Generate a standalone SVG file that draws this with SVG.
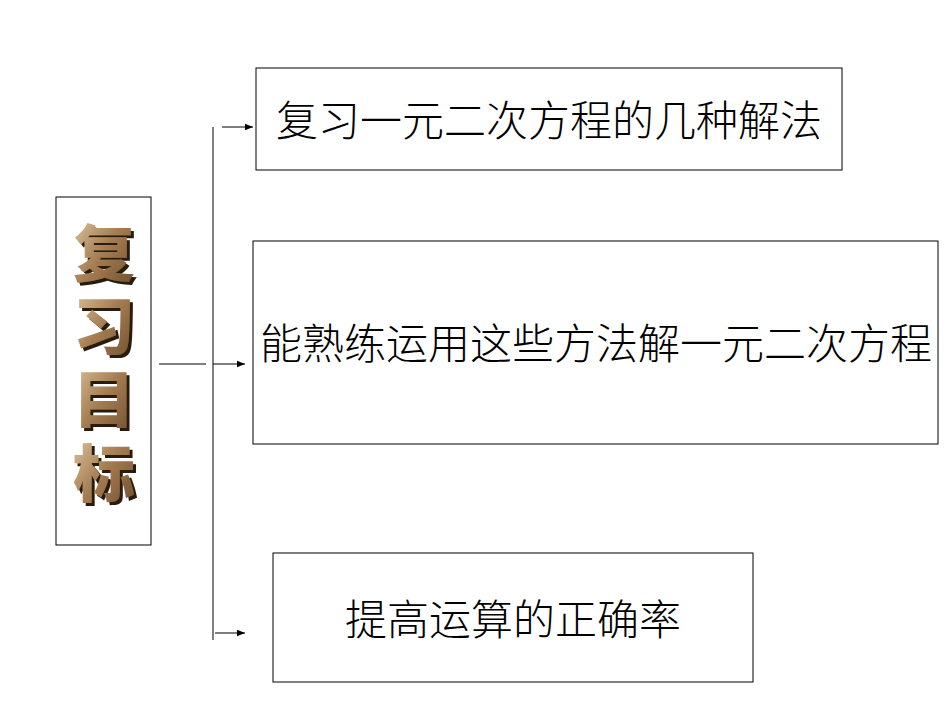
<svg xmlns="http://www.w3.org/2000/svg" width="950" height="713" viewBox="0 0 950 713">
<defs>
<style>
.box{fill:#fff;stroke:#000;stroke-width:1}
.t{font-family:"Noto Sans CJK SC",sans-serif;font-weight:300;fill:#000;text-anchor:middle}
.title{font-family:"Noto Sans CJK SC",sans-serif;font-weight:900;font-size:62px;text-anchor:middle;fill:url(#g);filter:url(#sh)}
.ln{stroke:#000;stroke-width:1;fill:none}
</style>
<linearGradient id="g" x1="0" y1="0" x2="1" y2="1">
<stop offset="0" stop-color="#e6cfa8"/><stop offset="0.5" stop-color="#a57d52"/><stop offset="1" stop-color="#6b4a2c"/>
</linearGradient>
<filter id="sh" x="-20%" y="-20%" width="140%" height="140%">
<feDropShadow dx="3" dy="3" stdDeviation="0.5" flood-color="#2a1c10" flood-opacity="1"/>
</filter>
<marker id="a" viewBox="0 0 10 10" refX="10" refY="5" markerWidth="8" markerHeight="8" orient="auto"><path d="M0,1 L10,5 L0,9 z" fill="#000"/></marker>
</defs>
<rect width="950" height="713" fill="#fff"/>
<g id="title">
<rect class="box" x="56" y="197" width="95" height="348"/>
<text class="title" x="104" y="277">复</text>
<text class="title" x="104" y="350">习</text>
<text class="title" x="104" y="423">目</text>
<text class="title" x="104" y="497">标</text>
</g>
<g id="connectors">
<line class="ln" x1="159" y1="364" x2="206" y2="364"/>
<line class="ln" x1="213" y1="127" x2="213" y2="640"/>
<line class="ln" x1="222" y1="127" x2="253" y2="127" marker-end="url(#a)"/>
<line class="ln" x1="213" y1="364" x2="245" y2="364" marker-end="url(#a)"/>
<line class="ln" x1="215" y1="633" x2="245" y2="633" marker-end="url(#a)"/>
</g>
<g id="n1"><rect class="box" x="256" y="68" width="586" height="102"/><text class="t" x="549" y="136" font-size="42">复习一元二次方程的几种解法</text></g>
<g id="n2"><rect class="box" x="253" y="241" width="685" height="203"/><text class="t" x="596" y="359" font-size="42">能熟练运用这些方法解一元二次方程</text></g>
<g id="n3"><rect class="box" x="273" y="553" width="480" height="129"/><text class="t" x="513" y="635" font-size="42">提高运算的正确率</text></g>
</svg>
